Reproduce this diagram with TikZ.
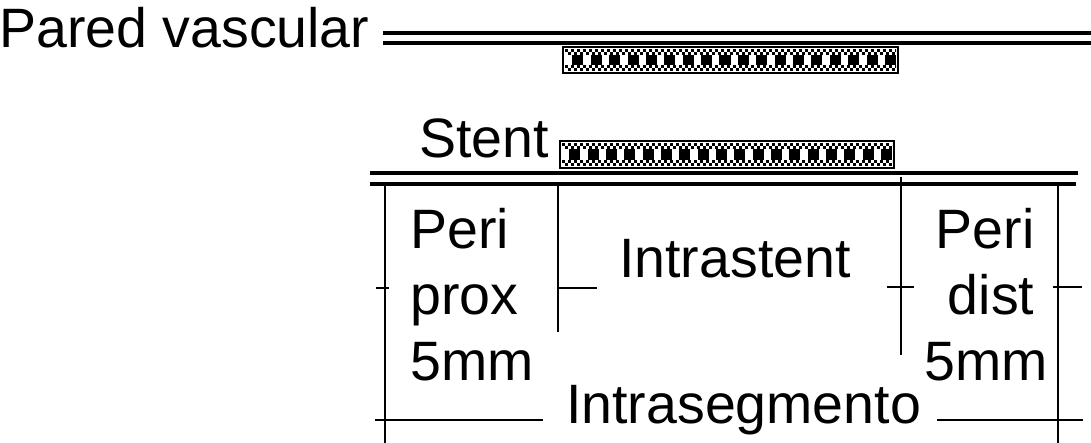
\documentclass[tikz,border=0pt]{standalone}
\usepackage{fontspec}
\setmainfont{Liberation Sans}
\newcommand{\drawstent}[4]{%
  \pgfmathtruncatemacro{\nsq}{(#3-4)/3}%
  \pgfmathsetmacro{\per}{(#3-4)/18}%
  \begin{scope}[shift={(#1,#2)}]
    \fill[white] (0,0) rectangle (#3,#4);
    \begin{scope}
      \clip (2,2) rectangle (#3-2,#4-2);
      \foreach \i in {0,2,...,\nsq}{
        \fill[black] (2+3*\i,#4-5) rectangle ++(3,3);
        \fill[black] (5+3*\i,#4-8) rectangle ++(3,3);
        \fill[black] (2+3*\i,5) rectangle ++(3,3);
        \fill[black] (5+3*\i,2) rectangle ++(3,3);
      }
      \foreach \k in {0,...,17}{
        \fill[black] (2+\k*\per+0.4*\per,8) rectangle ++(0.6*\per,#4-16);
      }
    \end{scope}
    \draw[line width=2pt] (0,0) rectangle (#3,#4);
  \end{scope}}
\tikzset{
  wall/.style={line width=3.2pt},
  dimline/.style={line width=2.8pt},
  lbl/.style={inner sep=0pt, font=\fontsize{55.5}{66}\selectfont}
}
\begin{document}
\begin{tikzpicture}[x=1pt,y=1pt]
\useasboundingbox (0,0) rectangle (1091,443);
% top: vessel wall with stent
\node[lbl, anchor=base west] (pared) at (-1,395) {Pared vascular};
\coordinate (w1a) at (383,410); \coordinate (w1b) at (1091,410);
\coordinate (w2a) at (383,400); \coordinate (w2b) at (1091,400);
\draw[wall] (w1a) -- (w1b);
\draw[wall] (w2a) -- (w2b);
\drawstent{563}{370}{335}{26}
% second: stent label
\node[lbl, anchor=base west] (stent) at (419,285) {Stent};
\drawstent{560}{275}{334}{27}
\coordinate (l1a) at (370,270); \coordinate (l1b) at (1078,270);
\coordinate (l2a) at (370,259); \coordinate (l2b) at (1076,259);
\draw[wall] (l1a) -- (l1b);
\draw[wall] (l2a) -- (l2b);
% vertical segment markers
\coordinate (v1t) at (385,259); \coordinate (v1b) at (385,0);
\coordinate (v2t) at (558,259); \coordinate (v2b) at (558,111);
\coordinate (v3t) at (901,266); \coordinate (v3b) at (901,88);
\coordinate (v4t) at (1058,259); \coordinate (v4b) at (1058,0);
\draw[dimline] (v1t) -- (v1b);
\draw[dimline] (v2t) -- (v2b);
\draw[dimline] (v3t) -- (v3b);
\draw[dimline] (v4t) -- (v4b);
% ticks
\coordinate (t1a) at (376,155); \coordinate (t1b) at (389,155);
\coordinate (t2a) at (558,155); \coordinate (t2b) at (597,155);
\coordinate (t3a) at (887,156); \coordinate (t3b) at (914,156);
\coordinate (t4a) at (1053,156); \coordinate (t4b) at (1082,156);
\draw[dimline] (t1a) -- (t1b);
\draw[dimline] (t2a) -- (t2b);
\draw[dimline] (t3a) -- (t3b);
\draw[dimline] (t4a) -- (t4b);
% intrasegment line
\coordinate (b1a) at (375,23); \coordinate (b1b) at (543,23);
\coordinate (b2a) at (937,23); \coordinate (b2b) at (1083,23);
\draw[dimline] (b1a) -- (b1b);
\draw[dimline] (b2a) -- (b2b);
% labels
\node[lbl, anchor=base west] (pp1) at (410,194) {Peri};
\node[lbl, anchor=base west] (pp2) at (410,128) {prox};
\node[lbl, anchor=base west] (pp3) at (410,62) {5mm};
\node[lbl, anchor=base west] (intra) at (619,165) {Intrastent};
\node[lbl, anchor=base] (pd1) at (985,194) {Peri};
\node[lbl, anchor=base] (pd2) at (991,128) {dist};
\node[lbl, anchor=base] (pd3) at (986,62) {5mm};
\node[lbl, anchor=base west] (iseg) at (566,19) {Intrasegmento};
\end{tikzpicture}
\end{document}
